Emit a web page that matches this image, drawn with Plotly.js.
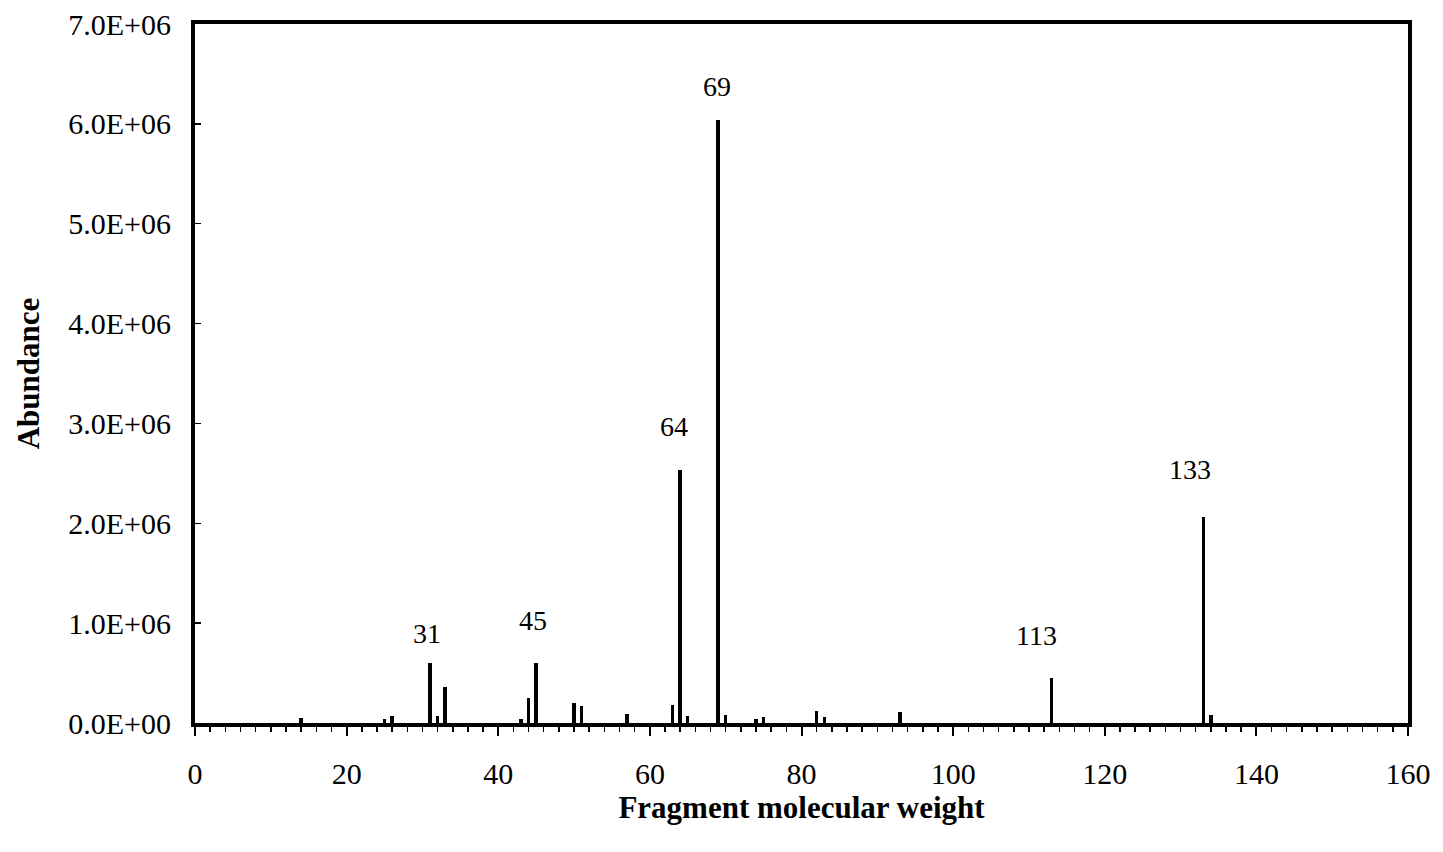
<!DOCTYPE html>
<html>
<head>
<meta charset="utf-8">
<script src="https://cdn.plot.ly/plotly-3.0.1.min.js"></script>
<style>
  html, body { margin: 0; padding: 0; background: #fff; }
  #chart { width: 1443px; height: 852px; }
</style>
</head>
<body>
<div id="chart"></div>
<script>
// Fragment molecular weights (m/z) and abundances
var fragmentMass = [14, 25, 26, 31, 32, 33, 43, 44, 45, 50, 51, 57, 63, 64, 65, 69, 70, 74, 75, 82, 83, 93, 113, 133, 134];
var abundance = [50000, 40000, 70000, 600000, 70000, 360000, 40000, 250000, 600000, 200000, 170000, 90000, 180000, 2530000, 70000, 6040000, 80000, 40000, 60000, 120000, 60000, 110000, 450000, 2060000, 80000];

// Labelled peaks
var labelledPeaks = [31, 45, 64, 69, 113, 133];

// Y tick labels
var yTickValues = [0, 1000000, 2000000, 3000000, 4000000, 5000000, 6000000, 7000000];
var yTickLabels = ["0.0E+00", "1.0E+06", "2.0E+06", "3.0E+06", "4.0E+06", "5.0E+06", "6.0E+06", "7.0E+06"];

// label offsets (pixels) – styling only
var labelXShift = [-3, -3, -6, -1, -15, -13];
var labelYShift = [30, 43, 44, 33, 43, 48];

var FONT = "Liberation Serif, Times New Roman, serif";

var annotations = labelledPeaks.map(function (m, i) {
  var idx = fragmentMass.indexOf(m);
  return {
    x: m, y: abundance[idx], xref: "x", yref: "y",
    text: String(m), showarrow: false,
    xanchor: "center", yanchor: "middle",
    xshift: labelXShift[i], yshift: labelYShift[i],
    font: { family: FONT, size: 28, color: "#000" }
  };
});

var trace = {
  type: "bar",
  x: fragmentMass,
  y: abundance,
  width: 0.45,
  marker: { color: "#000", line: { width: 0 } },
  hoverinfo: "x+y"
};

var layout = {
  width: 1443, height: 852,
  margin: { l: 195, r: 35, t: 24, b: 129 },
  paper_bgcolor: "#fff", plot_bgcolor: "#fff",
  showlegend: false,
  bargap: 0,
  xaxis: {
    range: [0, 160],
    tickmode: "linear", tick0: 0, dtick: 20,
    ticks: "outside", ticklen: 9, tickwidth: 2, tickcolor: "#000",
    minor: { dtick: 2, ticks: "outside", ticklen: 5, tickwidth: 1.5, tickcolor: "#000" },
    showline: true, linewidth: 4, linecolor: "#000", mirror: true,
    showgrid: false, zeroline: false,
    tickfont: { family: FONT, size: 30, color: "#000" },
    ticklabelstandoff: 12,
    title: { text: "<b>Fragment molecular weight</b>", font: { family: FONT, size: 31, color: "#000" }, standoff: 6 }
  },
  yaxis: {
    range: [0, 7000000],
    tickmode: "array", tickvals: yTickValues, ticktext: yTickLabels,
    ticks: "inside", ticklen: 6, tickwidth: 1.5, tickcolor: "#000",
    showline: true, linewidth: 4, linecolor: "#000", mirror: true,
    showgrid: false, zeroline: false,
    tickfont: { family: FONT, size: 30, color: "#000" },
    ticklabelstandoff: 14,
    title: { text: "<b>Abundance</b>", font: { family: FONT, size: 31, color: "#000" }, standoff: 20 }
  },
  annotations: annotations
};

Plotly.newPlot("chart", [trace], layout, { displayModeBar: false, staticPlot: true });
</script>
</body>
</html>
